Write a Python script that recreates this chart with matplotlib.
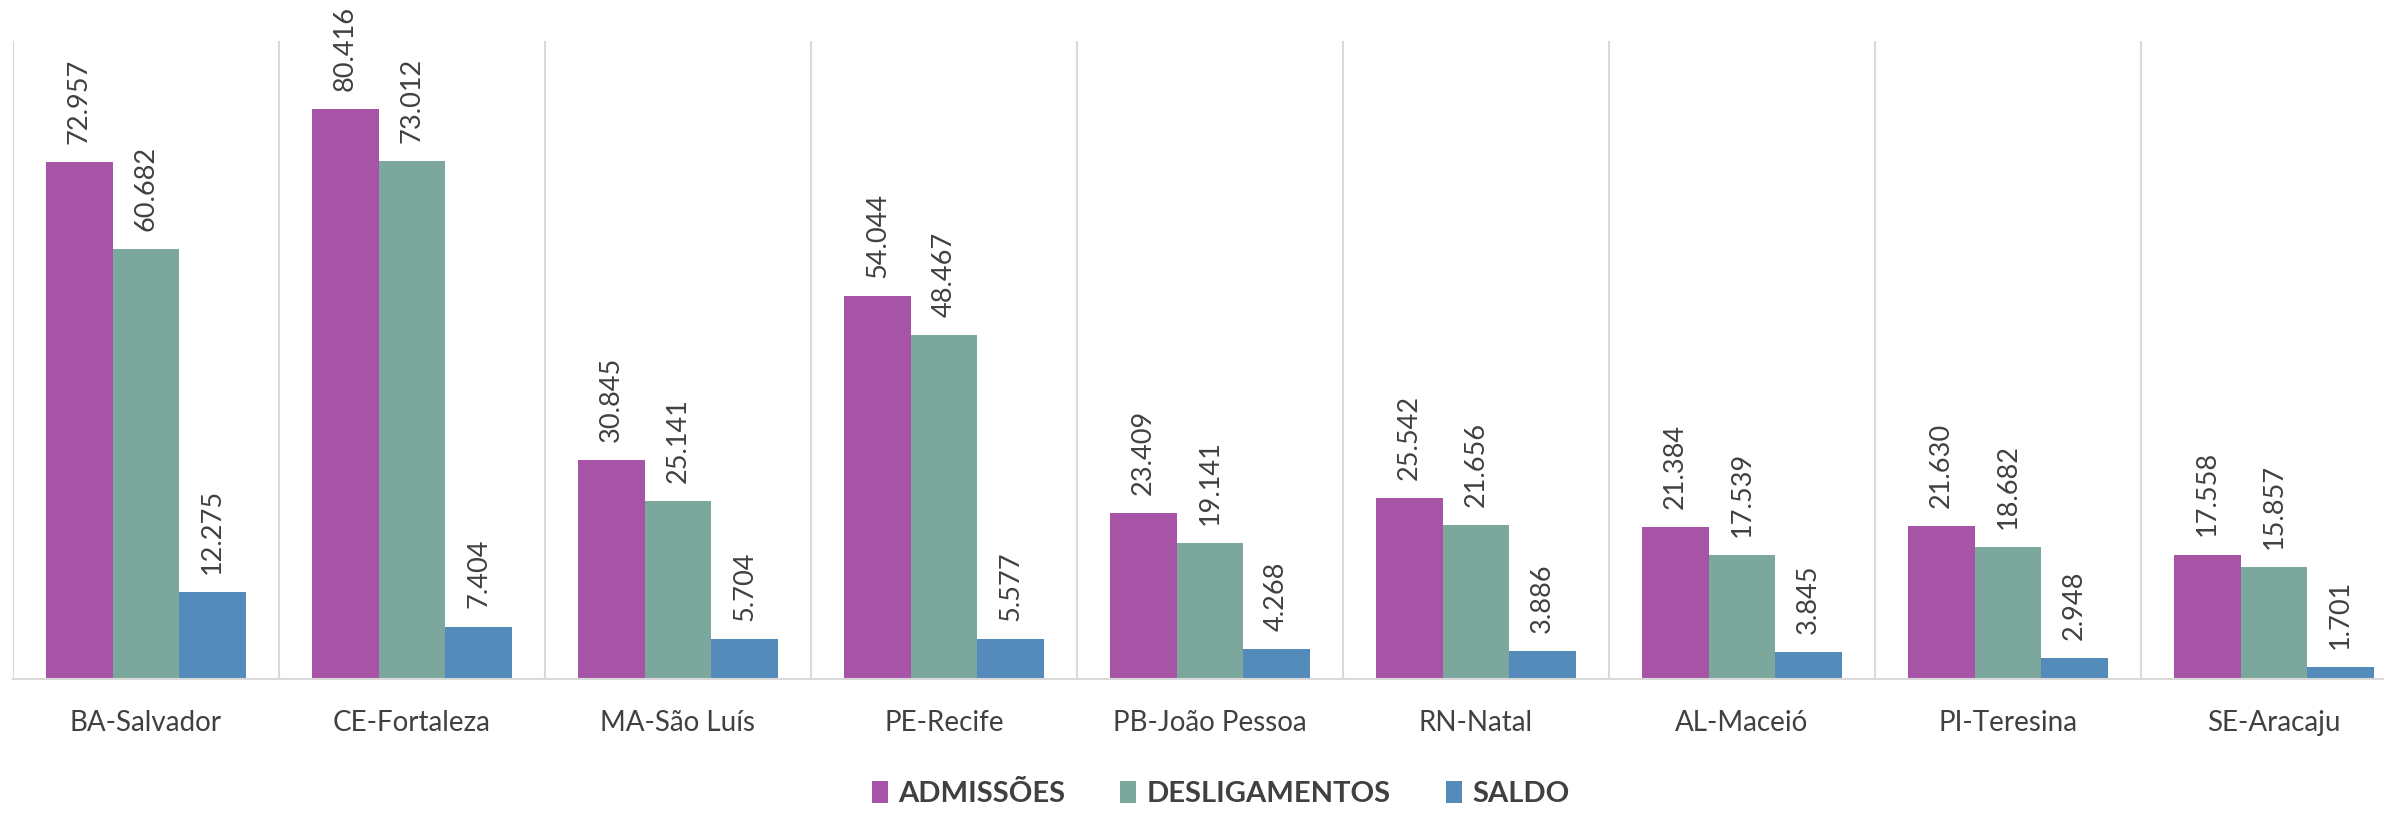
import numpy as np
import matplotlib
matplotlib.use("Agg")
import matplotlib.pyplot as plt
from matplotlib.patches import Patch
from matplotlib import font_manager

#======================================================================#
## data
cidades = ["BA-Salvador", "CE-Fortaleza", "MA-São Luís", "PE-Recife",
           "PB-João Pessoa", "RN-Natal", "AL-Maceió", "PI-Teresina", "SE-Aracaju"]
admissoes = [72957, 80416, 30845, 54044, 23409, 25542, 21384, 21630, 17558]
desligamentos = [60682, 73012, 25141, 48467, 19141, 21656, 17539, 18682, 15857]
saldo = [12275, 7404, 5704, 5577, 4268, 3886, 3845, 2948, 1701]
series_names = ["ADMISSÕES", "DESLIGAMENTOS", "SALDO"]

#======================================================================#
## style
cores = ["#A754A7", "#7BA79D", "#548BBA"]
txt_color = "#404040"
grid_color = "#d9d9d9"
plt.rcParams['font.family'] = ['Lato', 'DejaVu Sans']

# condensed bold for the legend if available
names = {f.name for f in font_manager.fontManager.ttflist}
leg_family = ['Liberation Sans Narrow', 'Lato'] if 'Liberation Sans Narrow' in names else ['Lato']
leg_size = 23 if 'Liberation Sans Narrow' in names else 21

fig = plt.figure(figsize=(23.84, 8.15), dpi=100)
ax = fig.add_axes([13/2384, 136/815, 2394/2384, 638/815])

x = np.arange(len(cidades))
w = 0.25
for k, vals in enumerate([admissoes, desligamentos, saldo]):
    pos = x + (k - 1) * w
    ax.bar(pos, vals, width=w, color=cores[k], edgecolor="none", label=series_names[k])
    for xi, v in zip(pos, vals):
        lbl = f"{v:,}".replace(",", ".")
        ax.annotate(lbl, (xi, v), xytext=(0, 13), textcoords="offset points",
                    rotation=90, ha="center", va="bottom", fontsize=19.5, color=txt_color)

# category separators
for b in np.arange(-0.5, len(cidades) + 0.5, 1.0):
    ax.axvline(b, color=grid_color, linewidth=1.5, zorder=0)

ax.set_xlim(-0.5, len(cidades) - 0.5)
ax.set_ylim(0, 90000)
ax.set_yticks([])
ax.set_xticks(x)
ax.set_xticklabels(cidades, fontsize=20, color=txt_color)
ax.tick_params(axis="x", length=0, pad=22)
for s in ["top", "right", "left"]:
    ax.spines[s].set_visible(False)
ax.spines["bottom"].set_color(grid_color)
ax.spines["bottom"].set_linewidth(1.5)

handles = [Patch(facecolor=c, edgecolor="none") for c in cores]
leg = fig.legend(handles, series_names, loc="center", bbox_to_anchor=(0.512, 0.026),
                 ncol=3, frameon=False, prop={'family': leg_family, 'size': leg_size, 'weight': 'bold'},
                 handlelength=0.55, handleheight=0.8,
                 handletextpad=0.35, columnspacing=1.9)
for t in leg.get_texts():
    t.set_color(txt_color)

fig.savefig("out.png", dpi=100)
